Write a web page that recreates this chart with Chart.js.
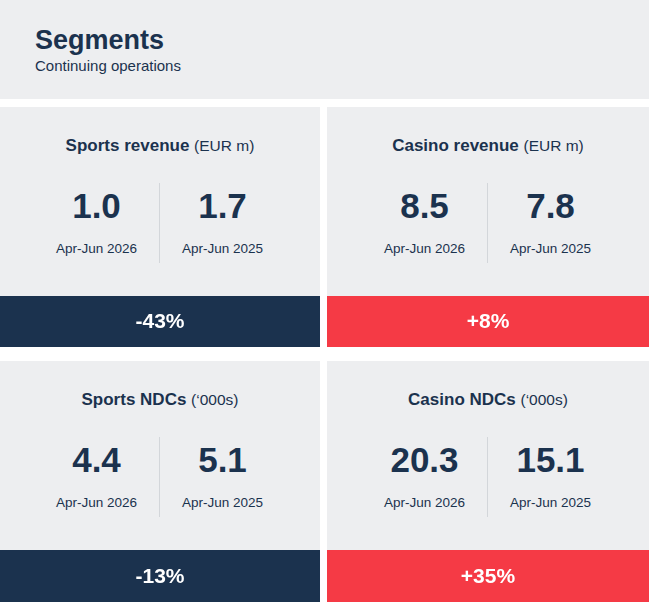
<!DOCTYPE html>
<html>
<head>
<meta charset="utf-8">
<script src="https://cdn.jsdelivr.net/npm/chart.js@4"></script>
<style>
  body { margin: 0; background: #fff; font-family: "Liberation Sans", Arial, sans-serif; color: #1b324e; }
  .page { width: 649px; height: 602px; position: relative; overflow: hidden; }
  .header { height: 99px; background: #edeef0; position: relative; }
  .header h1 { position: absolute; left: 35px; top: 24px; margin: 0; font-size: 27px; line-height: 32px; font-weight: bold; }
  .header p { position: absolute; left: 35px; top: 57px; margin: 0; font-size: 15px; line-height: 17px; }
  .grid { position: absolute; top: 107px; left: 0; display: grid; grid-template-columns: 320px 322px; column-gap: 7px; row-gap: 14px; }
  .card { width: 100%; }
  .body { height: 189px; background: #edeef0; position: relative; }
  .title { position: absolute; left: 0; right: 0; top: 29px; text-align: center; font-size: 17px; line-height: 20px; font-weight: bold; white-space: nowrap; }
  .title span { font-weight: normal; font-size: 15.5px; }
  .val { position: absolute; top: 79px; width: 125px; text-align: center; font-size: 35px; line-height: 40px; font-weight: bold; }
  .lab { position: absolute; top: 134px; width: 125px; text-align: center; font-size: 13.5px; line-height: 16px; }
  .div { position: absolute; top: 76px; height: 80px; width: 1px; background: #d3d6da; }
  .strip { height: 51px; position: relative; }
  .card.low .strip { height: 52px; }
</style>
</head>
<body>
<div class="page">
  <div class="header">
    <h1>Segments</h1>
    <p>Continuing operations</p>
  </div>
  <div class="grid" id="grid"></div>
</div>
<script>
const segments = ["Sports revenue", "Casino revenue", "Sports NDCs", "Casino NDCs"];
const units = ["(EUR m)", "(EUR m)", "(\u2018000s)", "(\u2018000s)"];
const currentValues = [1.0, 8.5, 4.4, 20.3];
const priorValues = [1.7, 7.8, 5.1, 15.1];
const periodLabels = ["Apr-Jun 2026", "Apr-Jun 2025"];
const changeValues = [-43, 8, -13, 35];

const NAVY = "#1b324e";
const RED = "#f53a45";

// draws the change label in the middle of the strip bar
const stripLabel = {
  id: "stripLabel",
  afterDatasetsDraw(chart) {
    const bar = chart.getDatasetMeta(0).data[0];
    const v = chart.data.datasets[0].change;
    const ctx = chart.ctx;
    ctx.save();
    ctx.fillStyle = "#fff";
    ctx.font = "bold 21px 'Liberation Sans', Arial, sans-serif";
    ctx.textAlign = "center";
    ctx.textBaseline = "middle";
    ctx.fillText((v > 0 ? "+" : "") + v + "%", (bar.x + bar.base) / 2, bar.y + 1);
    ctx.restore();
  },
};

const grid = document.getElementById("grid");
segments.forEach((name, i) => {
  const w = i % 2 === 0 ? 320 : 322;
  const mid = Math.round(w / 2) - 1;
  const card = document.createElement("div");
  card.className = "card" + (i > 1 ? " low" : "");
  card.innerHTML =
    '<div class="body">' +
    '<div class="title">' + name + ' <span>' + units[i] + '</span></div>' +
    '<div class="val" style="left:' + (mid - 125) + 'px">' + currentValues[i].toFixed(1) + '</div>' +
    '<div class="lab" style="left:' + (mid - 125) + 'px">' + periodLabels[0] + '</div>' +
    '<div class="div" style="left:' + mid + 'px"></div>' +
    '<div class="val" style="left:' + (mid + 1) + 'px">' + priorValues[i].toFixed(1) + '</div>' +
    '<div class="lab" style="left:' + (mid + 1) + 'px">' + periodLabels[1] + '</div>' +
    '</div>' +
    '<div class="strip"><canvas id="strip' + i + '"></canvas></div>';
  grid.appendChild(card);

  new Chart(document.getElementById("strip" + i).getContext("2d"), {
    type: "bar",
    data: {
      labels: [name],
      datasets: [
        {
          data: [1],
          change: changeValues[i],
          backgroundColor: changeValues[i] < 0 ? NAVY : RED,
          borderWidth: 0,
          barPercentage: 1,
          categoryPercentage: 1,
        },
      ],
    },
    options: {
      indexAxis: "y",
      responsive: true,
      maintainAspectRatio: false,
      animation: false,
      layout: { padding: 0 },
      plugins: { legend: { display: false }, tooltip: { enabled: false } },
      scales: {
        x: { display: false, min: 0, max: 1 },
        y: { display: false },
      },
    },
    plugins: [stripLabel],
  });
});
</script>
</body>
</html>
